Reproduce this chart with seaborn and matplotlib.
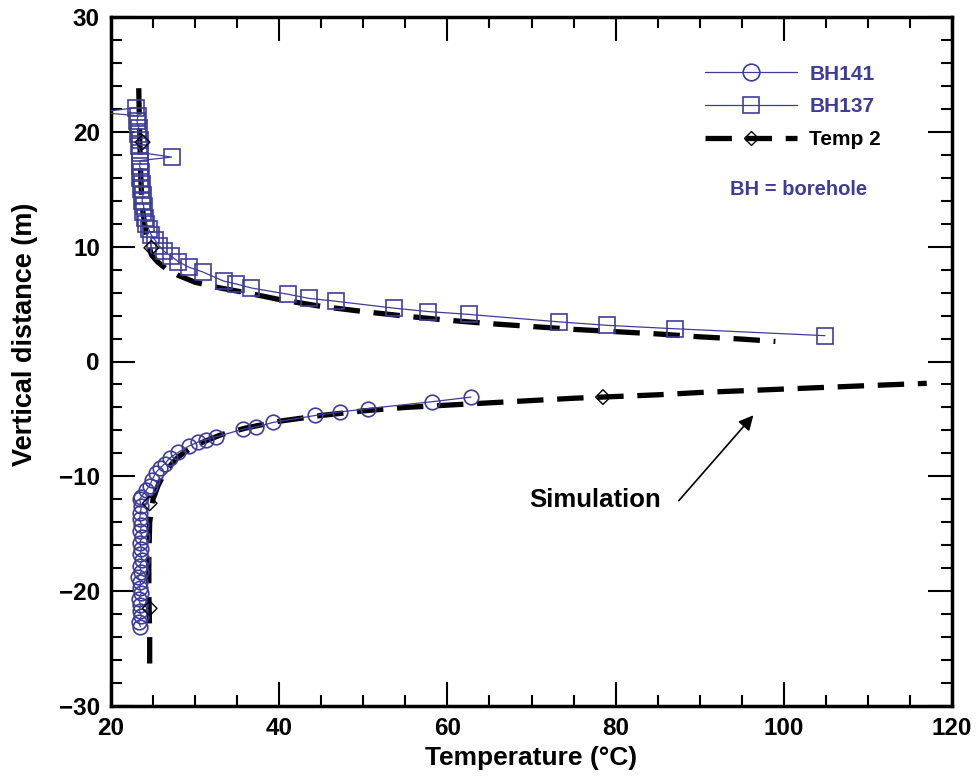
import numpy as np
import pandas as pd
import matplotlib
matplotlib.use("Agg")
import matplotlib.pyplot as plt
from matplotlib.lines import Line2D
from matplotlib.ticker import MultipleLocator
import seaborn as sns

# ---------------- data ----------------
bh137_temp = [23.0, 18.5, 23.2, 23.1, 23.3, 23.2, 23.4, 23.3, 23.5, 27.2, 23.5, 23.4,
              23.6, 23.5, 23.7, 23.6, 23.8, 23.7, 23.9, 23.8, 24.0, 24.2, 24.5, 24.8,
              25.2, 25.7, 26.3, 27.1, 28.0, 29.3, 30.9, 33.4, 34.9, 36.7, 41.1, 43.5,
              46.7, 53.6, 57.7, 62.6, 73.3, 79.0, 87.1, 104.9]
bh137_depth = [22.1, 21.7, 21.4, 20.9, 20.3, 19.8, 19.3, 18.8, 18.2, 17.8, 17.5, 17.0,
               16.5, 16.0, 15.5, 15.0, 14.5, 14.0, 13.5, 13.0, 12.5, 12.0, 11.5, 11.0,
               10.6, 10.1, 9.6, 9.2, 8.7, 8.2, 7.8, 7.0, 6.75, 6.4, 5.85, 5.5,
               5.25, 4.65, 4.35, 4.1, 3.45, 3.15, 2.85, 2.25]

bh141_temp = [23.5, 23.3, 23.6, 23.4, 23.5, 23.3, 23.6, 23.4, 23.5, 23.2, 23.6, 23.4,
              23.7, 23.5, 23.6, 23.4, 23.7, 23.5, 23.6, 23.4, 23.5, 23.6, 23.4, 23.6,
              24.2, 24.6, 24.9, 25.3, 25.8, 26.4, 27.0, 28.0, 29.3, 30.4, 31.3, 32.5,
              35.7, 37.3, 39.3, 44.3, 47.2, 50.6, 58.2, 62.8]
bh141_depth = [-23.1, -22.7, -22.2, -21.7, -21.2, -20.7, -20.2, -19.7, -19.2, -18.8, -18.3, -17.8,
               -17.3, -16.8, -16.3, -15.8, -15.3, -14.8, -14.2, -13.7, -13.2, -12.6, -12.0, -11.8,
               -11.2, -10.8, -10.3, -9.7, -9.3, -8.9, -8.4, -7.9, -7.35, -7.0, -6.8, -6.55,
               -5.9, -5.7, -5.3, -4.7, -4.4, -4.1, -3.5, -3.1]

sim_upper_temp = [23.3, 23.4, 23.5, 23.6, 23.8, 24.2, 24.8, 25.5, 26.5, 28, 30, 33, 36, 40,
                  45, 50, 55, 60, 65, 70, 75, 80, 85, 90, 95, 99]
sim_upper_depth = [23.8, 20, 17, 15, 13, 11, 9.3, 8.7, 8.1, 7.5, 6.9, 6.4, 6.0, 5.4,
                   4.8, 4.35, 3.95, 3.6, 3.3, 3.05, 2.8, 2.6, 2.4, 2.15, 1.95, 1.75]
sim_lower_temp = [24.6, 24.6, 24.55, 24.5, 24.5, 24.6, 25.0, 25.6, 26.5, 28, 30, 33, 36, 40,
                  45, 50, 55, 60, 65, 70, 75, 80, 85, 90, 95, 100, 105, 110, 117]
sim_lower_depth = [-26.3, -24, -22, -20, -17, -14, -12, -10.8, -9.5, -8.3, -7.3, -6.4, -5.8, -5.2,
                   -4.7, -4.3, -4.0, -3.8, -3.6, -3.4, -3.2, -3.05, -2.9, -2.7, -2.55, -2.4, -2.25, -2.1, -1.9]

temp2_marker_temp = [23.75, 24.8, 24.6, 24.6, 78.5]
temp2_marker_depth = [19.1, 9.9, -12.35, -21.5, -3.1]

x_ticks = [20, 40, 60, 80, 100, 120]
y_ticks = [-30, -20, -10, 0, 10, 20, 30]

# ---------------- style ----------------
sns.set_theme(style="white")
plt.rcParams['font.family'] = ['Liberation Sans', 'DejaVu Sans']
plt.rcParams['font.weight'] = 'bold'
plt.rcParams['axes.labelweight'] = 'bold'
plt.rcParams['text.color'] = 'black'
plt.rcParams['axes.labelcolor'] = 'black'
plt.rcParams['xtick.color'] = 'black'
plt.rcParams['ytick.color'] = 'black'

BLUE = '#3d3d99'

fig = plt.figure(figsize=(9.8, 7.83), dpi=100)
ax = fig.add_axes([111 / 980, 1 - 706 / 783, 841 / 980, 689 / 783])

df137 = pd.DataFrame({'T': bh137_temp, 'z': bh137_depth})
df141 = pd.DataFrame({'T': bh141_temp, 'z': bh141_depth})
dfu = pd.DataFrame({'T': sim_upper_temp, 'z': sim_upper_depth})
dfl = pd.DataFrame({'T': sim_lower_temp, 'z': sim_lower_depth})
dfm = pd.DataFrame({'T': temp2_marker_temp, 'z': temp2_marker_depth})

dash = (0, (5, 2.6))
sns.lineplot(data=dfu, x='T', y='z', sort=False, estimator=None, ax=ax,
             color='black', lw=3.8, linestyle=dash, zorder=2)
sns.lineplot(data=dfl, x='T', y='z', sort=False, estimator=None, ax=ax,
             color='black', lw=3.8, linestyle=dash, zorder=2)

sns.lineplot(data=df141, x='T', y='z', sort=False, estimator=None, ax=ax,
             color=BLUE, lw=0.9, marker='o', markersize=10.5, markerfacecolor='none',
             markeredgecolor=BLUE, markeredgewidth=1.2, zorder=3)
sns.lineplot(data=df137, x='T', y='z', sort=False, estimator=None, ax=ax,
             color=BLUE, lw=0.9, marker='s', markersize=11, markerfacecolor='none',
             markeredgecolor=BLUE, markeredgewidth=1.2, zorder=3)

sns.scatterplot(data=dfm, x='T', y='z', marker='D', s=56, facecolor='none',
                edgecolor='black', linewidth=1.0, ax=ax, zorder=4)

ax.set_xlim(20, 120)
ax.set_ylim(-30, 30)
ax.xaxis.set_minor_locator(MultipleLocator(5))
ax.yaxis.set_minor_locator(MultipleLocator(2))
ax.set_xticks(x_ticks)
ax.set_yticks(y_ticks)

ax.tick_params(which='both', direction='in', top=True, right=True, bottom=True, left=True,
               colors='black', labelcolor='black', width=1.5, labelsize=17.5)
ax.tick_params(which='major', length=17, pad=8)
ax.tick_params(which='minor', length=8)
for lab in ax.get_xticklabels() + ax.get_yticklabels():
    lab.set_fontweight('bold')
for s in ax.spines.values():
    s.set_linewidth(2.5)
    s.set_color('black')

ax.set_xlabel('Temperature (°C)', fontsize=19, fontweight='bold', labelpad=4, color='black')
ax.set_ylabel('Vertical distance (m)', fontsize=19.5, fontweight='bold', color='black')
ax.yaxis.set_label_coords(-0.087, 0.54)

# legend
h141 = Line2D([], [], color=BLUE, lw=0.9, marker='o', ms=12, mfc='none', mec=BLUE, mew=1.2)
h137 = Line2D([], [], color=BLUE, lw=0.9, marker='s', ms=12, mfc='none', mec=BLUE, mew=1.2)
htmp = Line2D([], [], color='black', lw=3.8, linestyle=dash, marker='D', ms=7.5,
              mfc='none', mec='black', mew=1.0)
leg = ax.legend([h141, h137, htmp], ['BH141', 'BH137', 'Temp 2'], loc='upper left',
                bbox_to_anchor=(0.684, 0.958), frameon=False, handlelength=4.4,
                handletextpad=0.6, labelspacing=0.66, prop={'size': 15, 'weight': 'bold'})
for t, c in zip(leg.get_texts(), [BLUE, BLUE, 'black']):
    t.set_color(c)

ax.text(101.7, 15.0, 'BH = borehole', color=BLUE, fontsize=14.5, fontweight='bold',
        ha='center', va='center')

ax.annotate('', xy=(96.6, -4.5), xytext=(87.3, -12.3),
            arrowprops=dict(arrowstyle='-|>', color='black', lw=1.2, mutation_scale=22))
ax.text(69.7, -12.1, 'Simulation', fontsize=18.5, fontweight='bold', ha='left', va='center',
        color='black')

fig.savefig('out.png', dpi=100)
